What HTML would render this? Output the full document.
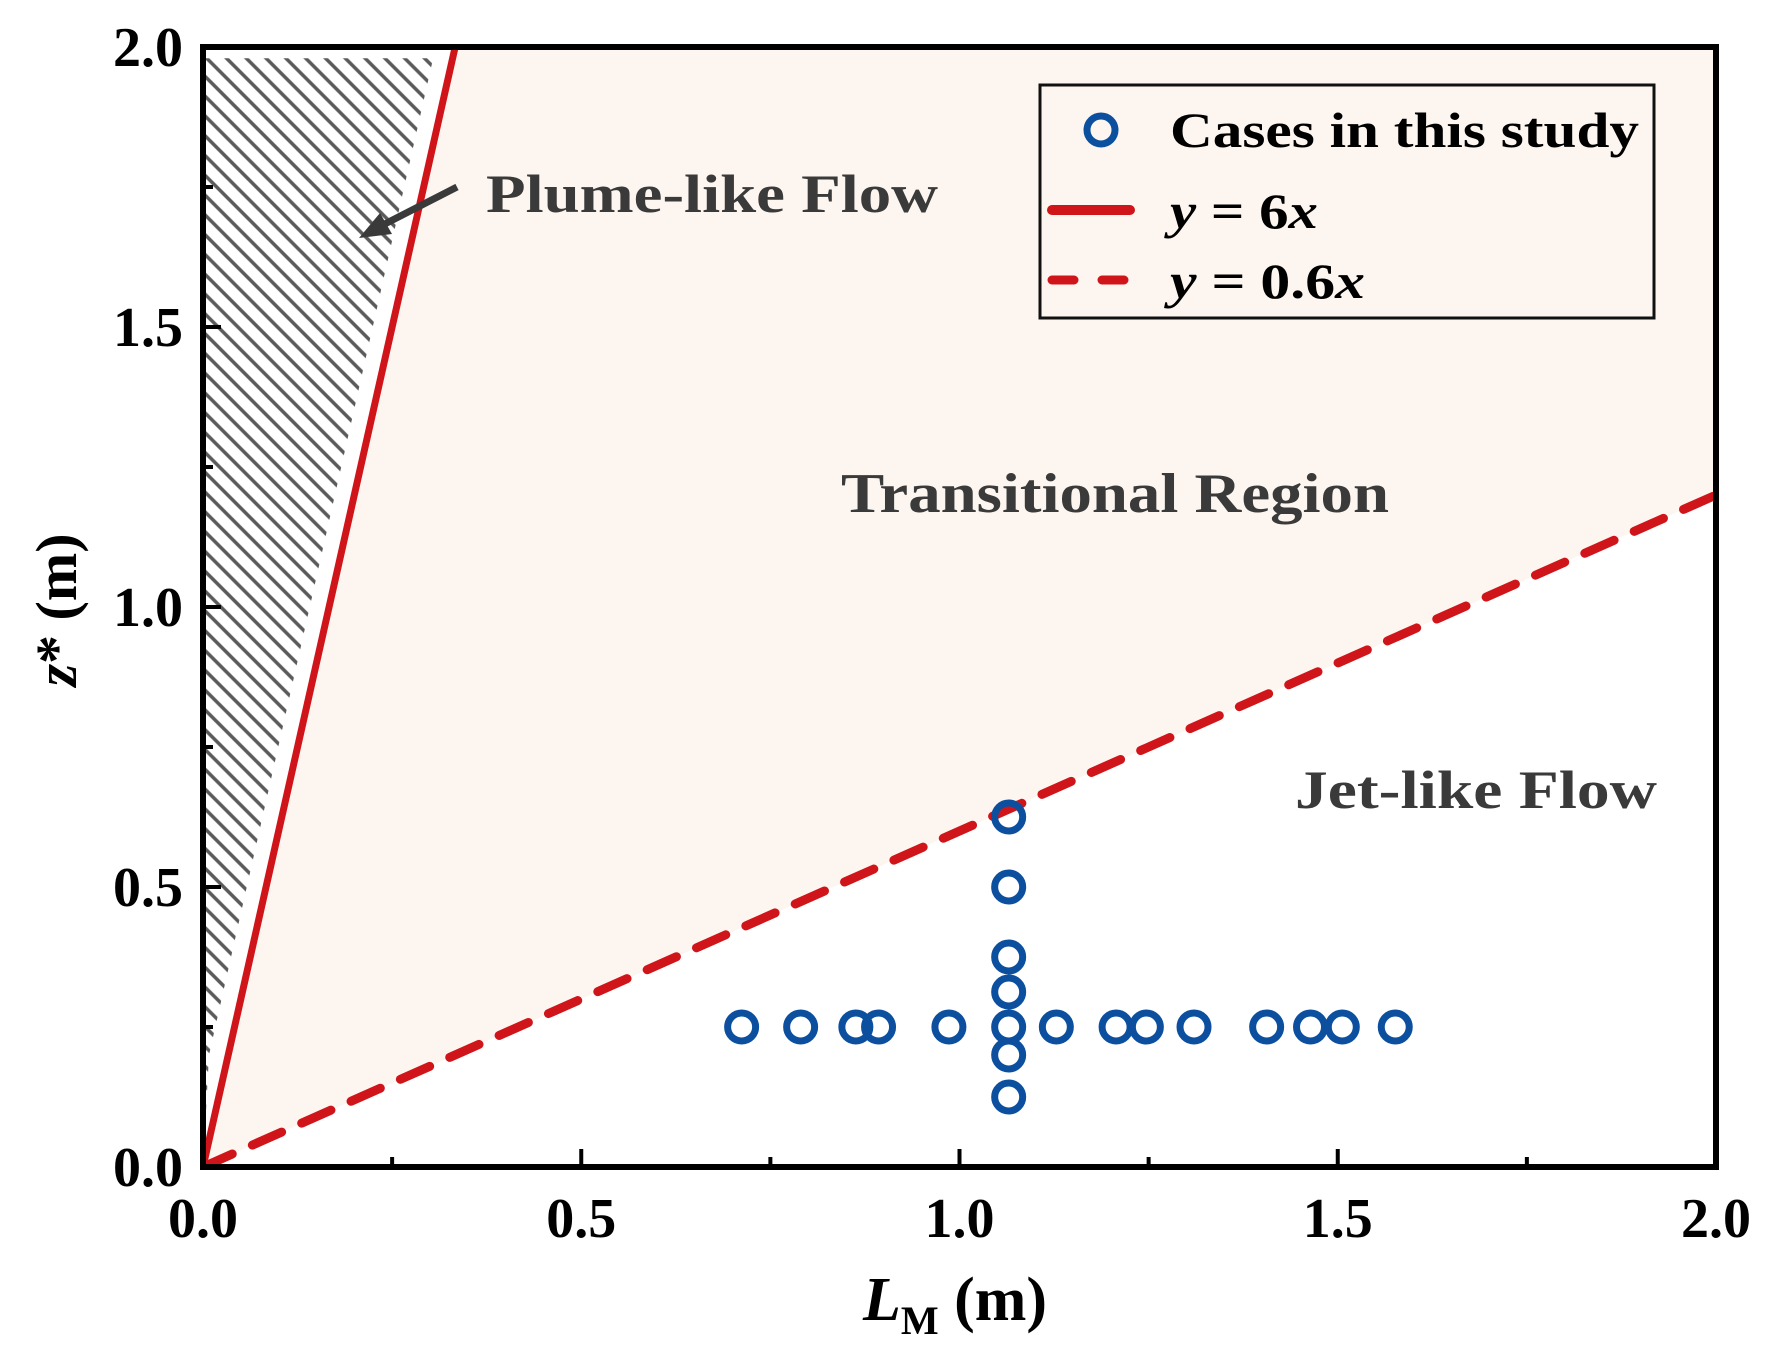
<!DOCTYPE html>
<html><head><meta charset="utf-8"><style>
html,body{margin:0;padding:0;background:#fff;}
svg{display:block;}
text{font-family:"Liberation Serif",serif;font-weight:bold;}
</style></head><body>
<svg id="chart" width="1771" height="1355" viewBox="0 0 1771 1355">
<defs>
<pattern id="hatch" patternUnits="userSpaceOnUse" width="14" height="14" patternTransform="rotate(45)">
<line x1="0" y1="7" x2="14" y2="7" stroke="#5a5a5a" stroke-width="3.5"/>
</pattern>
<clipPath id="plotclip"><rect x="203" y="47" width="1513" height="1120"/></clipPath>
</defs>
<g id="plot" clip-path="url(#plotclip)"></g>
<g id="axes"></g>
</svg>
<script>
const xTicks=[0,0.5,1.0,1.5,2.0];
const yTicks=[0,0.5,1.0,1.5,2.0];
const tickLabels=["0.0","0.5","1.0","1.5","2.0"];
const caseX=[0.712,0.79,0.863,0.893,0.986,1.065,1.128,1.207,1.247,1.31,1.406,1.464,1.506,1.576,1.065,1.065,1.065,1.065,1.065,1.065];
const caseY=[0.25,0.25,0.25,0.25,0.25,0.25,0.25,0.25,0.25,0.25,0.25,0.25,0.25,0.25,0.625,0.5,0.375,0.3125,0.2,0.125];
const slopes=[6,0.6];

const L=203,R=1716,T=47,B=1167;
const sx=v=>L+(v-0)/(2-0)*(R-L);
const sy=v=>B-(v-0)/(2-0)*(B-T);
const NS="http://www.w3.org/2000/svg";
function mk(tag,attrs,parent){const e=document.createElementNS(NS,tag);for(const k in attrs)e.setAttribute(k,attrs[k]);parent.appendChild(e);return e;}
const plot=document.getElementById('plot');
const axes=document.getElementById('axes');

const xTop6=2/slopes[0];
let e=mk('polygon',{points:`${sx(0)},${sy(0)} ${sx(xTop6)},${sy(2)} ${sx(2)},${sy(2)} ${sx(2)},${sy(slopes[1]*2)}`,fill:'#fdf6f0'},plot);


e=mk('polygon',{points:`${sx(0)},${sy(0)} ${sx(0)},${sy(1.98)} ${sx(xTop6)-22},${sy(1.98)} ${sx(0)+6},${sy(0.2)}`,fill:'url(#hatch)'},plot);



e=mk('line',{x1:sx(0),y1:sy(0),x2:sx(2/slopes[0]),y2:sy(2),stroke:'#d0151a','stroke-width':7},plot);


e=mk('line',{x1:sx(0),y1:sy(0),x2:sx(2),y2:sy(slopes[1]*2),stroke:'#d0151a','stroke-width':9,'stroke-dasharray':'32 22','stroke-linecap':'round'},plot);



for(let i=0;i<caseX.length;i++){
 const c=mk('circle',{cx:sx(caseX[i]),cy:sy(caseY[i]),r:14,fill:'none',stroke:'#0b4f9e','stroke-width':7},plot);
 
 
}

e=mk('rect',{x:L,y:T,width:R-L,height:B-T,fill:'none',stroke:'#000','stroke-width':6},axes);



for(let v=0;v<=2.0001;v+=0.25){
 const major=Math.abs(v*2-Math.round(v*2))<1e-6;
 const len=major?18:10;
 mk('line',{x1:sx(v),y1:B,x2:sx(v),y2:B-len,stroke:'#000','stroke-width':4},axes);
 mk('line',{x1:L,y1:sy(v),x2:L+len,y2:sy(v),stroke:'#000','stroke-width':4},axes);
}
for(let i=0;i<xTicks.length;i++){
 const t=mk('text',{x:sx(xTicks[i]),y:1237,'font-size':56,'text-anchor':'middle',fill:'#000'},axes);
 t.textContent=tickLabels[i];
 
 
}
for(let i=0;i<yTicks.length;i++){
 const t=mk('text',{x:183,y:sy(yTicks[i])+19,'font-size':56,'text-anchor':'end',fill:'#000'},axes);
 t.textContent=tickLabels[i];
 
 
}
</script>
<svg width="1771" height="1355" style="position:absolute;left:0;top:0">
<text x="955" y="1320" font-size="62" text-anchor="middle"><tspan font-style="italic">L</tspan><tspan font-size="40" dy="14">M</tspan><tspan dy="-14"> (m)</tspan></text>
<text transform="translate(76,610) rotate(-90)" font-size="58" text-anchor="middle"><tspan font-style="italic">z</tspan>* (m)</text>
<text x="486" y="212" font-size="54" fill="#3a3a3a" textLength="452" lengthAdjust="spacingAndGlyphs">Plume-like Flow</text>
<line x1="457" y1="187" x2="375" y2="229" stroke="#3a3a3a" stroke-width="7"/>
<polygon points="359,238 380,213 392,234" fill="#3a3a3a"/>
<text x="841" y="512" font-size="56" fill="#3a3a3a" textLength="548" lengthAdjust="spacingAndGlyphs">Transitional Region</text>
<text x="1295" y="808" font-size="54" fill="#3a3a3a" textLength="362" lengthAdjust="spacingAndGlyphs">Jet-like Flow</text>
<g>
<rect x="1040" y="85" width="614" height="233" fill="#fdf6f0" stroke="#111" stroke-width="3"/>
<circle cx="1101" cy="130" r="14" fill="none" stroke="#0b4f9e" stroke-width="7"/>
<text x="1170" y="147" font-size="50" fill="#000" textLength="469" lengthAdjust="spacingAndGlyphs">Cases in this study</text>
<line x1="1052" y1="210" x2="1130" y2="210" stroke="#d0151a" stroke-width="10" stroke-linecap="round"/>
<text x="1170" y="228" font-size="50" fill="#000" textLength="148" lengthAdjust="spacingAndGlyphs"><tspan font-style="italic">y</tspan> = 6<tspan font-style="italic">x</tspan></text>
<line x1="1052" y1="280" x2="1130" y2="280" stroke="#d0151a" stroke-width="9" stroke-dasharray="22 28" stroke-linecap="round"/>
<text x="1170" y="298" font-size="50" fill="#000" textLength="195" lengthAdjust="spacingAndGlyphs"><tspan font-style="italic">y</tspan> = 0.6<tspan font-style="italic">x</tspan></text>
</g>
</svg>
</body></html>
